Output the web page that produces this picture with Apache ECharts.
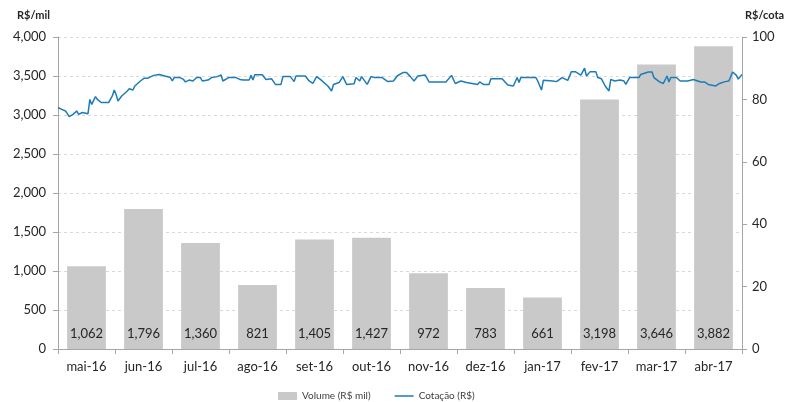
<!DOCTYPE html>
<html><head><meta charset="utf-8">
<script src="https://cdn.jsdelivr.net/npm/echarts@6/dist/echarts.min.js"></script>
<style>html,body{margin:0;padding:0;background:#fff}#c{width:796px;height:402px}</style>
</head><body><div id="c"></div>
<script>
var months = ['mai-16','jun-16','jul-16','ago-16','set-16','out-16','nov-16','dez-16','jan-17','fev-17','mar-17','abr-17'];
var volume = [1062,1796,1360,821,1405,1427,972,783,661,3198,3646,3882];
var leftTicks = {min:0, max:4000, interval:500};
var rightTicks = {min:0, max:100, interval:20};
var lineDates = ['2016-05-01','2016-05-03','2016-05-05','2016-05-07','2016-05-09','2016-05-11','2016-05-12','2016-05-14','2016-05-15','2016-05-17','2016-05-18','2016-05-19','2016-05-21','2016-05-22','2016-05-24','2016-05-28','2016-05-30','2016-05-31','2016-06-01','2016-06-02','2016-06-04','2016-06-07','2016-06-08','2016-06-10','2016-06-11','2016-06-14','2016-06-16','2016-06-18','2016-06-21','2016-06-24','2016-06-25','2016-06-27','2016-06-30','2016-07-01','2016-07-02','2016-07-05','2016-07-07','2016-07-08','2016-07-10','2016-07-12','2016-07-14','2016-07-16','2016-07-17','2016-07-20','2016-07-22','2016-07-23','2016-07-25','2016-07-27','2016-07-28','2016-07-31','2016-08-04','2016-08-06','2016-08-08','2016-08-11','2016-08-12','2016-08-13','2016-08-14','2016-08-18','2016-08-20','2016-08-23','2016-08-24','2016-08-25','2016-08-28','2016-08-29','2016-09-02','2016-09-04','2016-09-05','2016-09-10','2016-09-12','2016-09-14','2016-09-16','2016-09-18','2016-09-22','2016-09-24','2016-09-25','2016-09-28','2016-09-29','2016-09-30','2016-10-02','2016-10-06','2016-10-07','2016-10-09','2016-10-10','2016-10-13','2016-10-15','2016-10-17','2016-10-21','2016-10-24','2016-10-27','2016-10-29','2016-10-30','2016-11-01','2016-11-03','2016-11-05','2016-11-07','2016-11-09','2016-11-13','2016-11-15','2016-11-20','2016-11-24','2016-11-27','2016-11-28','2016-11-29','2016-12-02','2016-12-05','2016-12-06','2016-12-11','2016-12-12','2016-12-14','2016-12-17','2016-12-18','2016-12-21','2016-12-22','2016-12-24','2016-12-27','2016-12-30','2017-01-01','2017-01-02','2017-01-03','2017-01-11','2017-01-12','2017-01-14','2017-01-15','2017-01-20','2017-01-22','2017-01-25','2017-01-28','2017-01-30','2017-02-01','2017-02-04','2017-02-06','2017-02-07','2017-02-09','2017-02-12','2017-02-13','2017-02-15','2017-02-17','2017-02-19','2017-02-20','2017-02-22','2017-02-25','2017-02-27','2017-02-28','2017-03-02','2017-03-07','2017-03-08','2017-03-09','2017-03-12','2017-03-14','2017-03-15','2017-03-18','2017-03-20','2017-03-22','2017-03-23','2017-03-24','2017-03-27','2017-03-29','2017-04-02','2017-04-05','2017-04-06','2017-04-09','2017-04-11','2017-04-13','2017-04-17','2017-04-18','2017-04-19','2017-04-22','2017-04-24','2017-04-26','2017-04-28','2017-04-29','2017-05-01'];
var lineValues = [77.4,76.8,76.3,74.5,75.2,76.3,75.2,75.8,75.5,75.4,80,78.4,80.9,80,79,79,81.1,83,81.6,79.5,81.1,82.7,83.4,83,84.3,85.9,86.8,86.8,87.7,88,88,87.5,87,85.9,87,87,86.4,85.6,86.2,85.9,87,87,85.9,86.2,87,86.4,87.3,87.8,85.9,87,87,86.4,86.2,86.2,87.7,86.2,87.9,87.9,86.4,86.6,86.2,84.8,84.8,87.3,87.3,85.7,87.5,87.5,85.9,85.1,87.3,86.4,84.3,82.7,84.8,85.4,85.9,87.3,84.8,85,87,85.9,87.3,84.8,87.3,87,87,85.7,85.9,87.5,87,88.6,88.6,87.3,85.9,87.5,87.8,85.6,85.6,85.6,87.7,87.5,85.1,85.9,85.4,85.1,84.8,85.6,84.8,84.8,86.6,86.6,87,86.6,84.6,84.3,87,85.4,87,87,85.9,83,86.1,85.9,85.7,87,86.1,88.9,88.9,87.8,90,87.5,88.9,88.9,87,86.6,84.3,82.7,86.4,85.9,86.2,85.9,84.8,87,87,88,87.7,88.8,88.8,87,85.6,85.1,87.5,85.6,87,87,85.9,85.9,86.4,85.9,85.6,85.6,84.8,84.3,84,85.1,85.7,85.9,88.8,87.7,86.5,88];
var lineStart = '2016-05-01', lineEnd = '2017-05-01';

var FONT = 'Lato';
var chart = echarts.init(document.getElementById('c'));
var linePts = lineDates.map(function(d,i){return [d, lineValues[i]];});
chart.setOption({
  animation:false,
  textStyle:{fontFamily:FONT},
  grid:{left:58,right:54,top:37,bottom:53},
  legend:{top:386,left:273,itemGap:24,itemWidth:19,itemHeight:8,
    textStyle:{fontSize:10,color:'#404040',fontFamily:FONT},
    data:[{name:'Volume (R$ mil)',icon:'rect'},
          {name:'Cotação (R$)',icon:'path://M0,0L20,0M0,3.3L20,3.3L20,4.7L0,4.7ZM0,8L20,8'}]},
  xAxis:[
    {type:'category',data:months,
     axisLine:{lineStyle:{color:'#a6a6a6'}},
     axisTick:{show:true,alignWithLabel:false,length:5,lineStyle:{color:'#a6a6a6'}},
     axisLabel:{color:'#262626',fontSize:13,margin:11}},
    {type:'time',min:lineStart,max:lineEnd,show:false}
  ],
  yAxis:[
    {type:'value',min:leftTicks.min,max:leftTicks.max,interval:leftTicks.interval,
     name:'R$/mil',nameLocation:'end',nameGap:16,
     nameTextStyle:{fontWeight:'bold',fontSize:11,color:'#262626',align:'right',padding:[0,8,0,0]},
     axisLine:{show:true,lineStyle:{color:'#a6a6a6'}},
     axisTick:{show:true,length:5,lineStyle:{color:'#a6a6a6'}},
     axisLabel:{color:'#262626',fontSize:13,margin:12,formatter:function(v){return v.toLocaleString('en-US');}},
     splitLine:{lineStyle:{color:'#d9d9d9',type:[3,3]}}},
    {type:'value',min:rightTicks.min,max:rightTicks.max,interval:rightTicks.interval,position:'right',
     name:'R$/cota',nameLocation:'end',nameGap:16,
     nameTextStyle:{fontWeight:'bold',fontSize:11,color:'#262626',align:'left',padding:[0,0,0,3]},
     axisLine:{show:true,lineStyle:{color:'#a6a6a6'}},
     axisTick:{show:true,length:5,lineStyle:{color:'#a6a6a6'}},
     axisLabel:{color:'#262626',fontSize:13,margin:10},
     splitLine:{show:false}}
  ],
  series:[
    {name:'Volume (R$ mil)',type:'bar',data:volume,barWidth:'68%',
     itemStyle:{color:'#c9c9c9'},
     label:{show:true,position:'insideBottom',distance:9,color:'#262626',fontSize:13,
       formatter:function(p){return p.value.toLocaleString('en-US');}}},
    {name:'Cotação (R$)',type:'line',xAxisIndex:1,yAxisIndex:1,data:linePts,
     symbol:'none',lineStyle:{color:'#1d7cb8',width:1.5},itemStyle:{color:'#1d7cb8'}}
  ]
});
</script></body></html>
